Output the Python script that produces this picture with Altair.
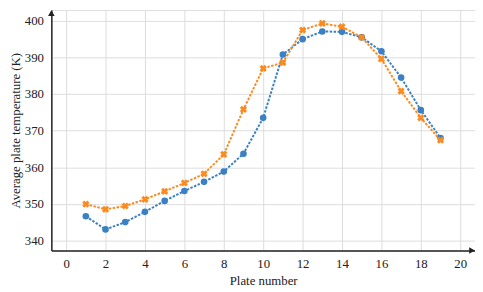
import altair as alt
import pandas as pd

plate = list(range(1, 20))
series_a = [346.6, 343.0, 345.0, 347.8, 350.8, 353.5, 356.0, 358.8, 363.7, 373.5,
            390.8, 395.0, 397.1, 397.0, 395.5, 391.7, 384.5, 375.6, 368.0]
series_b = [349.9, 348.5, 349.4, 351.2, 353.4, 355.7, 358.2, 363.5, 375.8, 387.0,
            388.6, 397.5, 399.3, 398.4, 395.5, 389.6, 380.8, 373.5, 367.4]

blue = "#3b80c4"
orange = "#fb8a1f"
font = "Liberation Serif"

df = pd.DataFrame({
    "plate": plate * 2,
    "temp": series_a + series_b,
    "series": ["A"] * len(plate) + ["B"] * len(plate),
})

W, H = 430, 244

xscale = alt.Scale(domain=[-0.75, 20.75], nice=False, zero=False)
yscale = alt.Scale(domain=[337.25, 402.95], nice=False, zero=False)
cscale = alt.Scale(domain=["A", "B"], range=[blue, orange])

xaxis = alt.Axis(
    title="Plate number", values=list(range(0, 21)),
    labelExpr="datum.value % 2 === 0 ? datum.label : ''",
    grid=True, gridColor={"condition": {"test": "datum.value % 2 === 0", "value": "#dcdcdc"}, "value": "#ececec"},
    ticks=False, domainColor="#222", domainWidth=1.5, labelPadding=7,
    labelFont=font, labelFontSize=13, labelColor="#222",
    titleFont=font, titleFontSize=13, titleFontWeight="normal", titleColor="#222", titlePadding=5,
)
yaxis = alt.Axis(
    title="Average plate temperature (K)", values=list(range(340, 405, 5)),
    labelExpr="datum.value % 10 === 0 ? datum.label : ''",
    grid=True, gridColor={"condition": {"test": "datum.value % 10 === 0", "value": "#dcdcdc"}, "value": "#ececec"},
    ticks=False, domainColor="#222", domainWidth=1.5, labelPadding=8,
    labelFont=font, labelFontSize=13, labelColor="#222",
    titleFont=font, titleFontSize=13, titleFontWeight="normal", titleColor="#222", titlePadding=2,
)

base = alt.Chart(df)

lines = base.mark_line(strokeDash=[2.5, 1.5], strokeWidth=2).encode(
    x=alt.X("plate:Q", scale=xscale, axis=xaxis),
    y=alt.Y("temp:Q", scale=yscale, axis=yaxis),
    color=alt.Color("series:N", scale=cscale, legend=None),
    detail="series:N",
)

pts_a = alt.Chart(df[df.series == "A"]).mark_point(shape="circle", filled=True, size=45, opacity=1).encode(
    x=alt.X("plate:Q", scale=xscale), y=alt.Y("temp:Q", scale=yscale),
    color=alt.Color("series:N", scale=cscale, legend=None),
)
pts_b = alt.Chart(df[df.series == "B"]).mark_point(shape="cross", filled=True, size=55, angle=45, opacity=1).encode(
    x=alt.X("plate:Q", scale=xscale), y=alt.Y("temp:Q", scale=yscale),
    color=alt.Color("series:N", scale=cscale, legend=None),
)

arrow_up = alt.Chart(df).mark_point(shape="triangle-up", filled=True, size=45, color="#222", opacity=1, clip=False).encode(
    x=alt.value(0), y=alt.value(3)
).transform_filter("datum.plate == 1 && datum.series == 'A'")
arrow_right = alt.Chart(df).mark_point(shape="triangle-right", filled=True, size=45, color="#222", opacity=1, clip=False).encode(
    x=alt.value(W - 3), y=alt.value(H)
).transform_filter("datum.plate == 1 && datum.series == 'A'")

chart = alt.layer(lines, pts_a, pts_b, arrow_up, arrow_right).properties(
    width=W, height=H,
    autosize=alt.AutoSizeParams(type="none"),
    padding={"left": 44, "top": 0, "right": 0, "bottom": 36},
).configure_view(stroke=None).configure(background="white")

chart.save("out.html", embed_options={"renderer": "svg", "actions": False})
